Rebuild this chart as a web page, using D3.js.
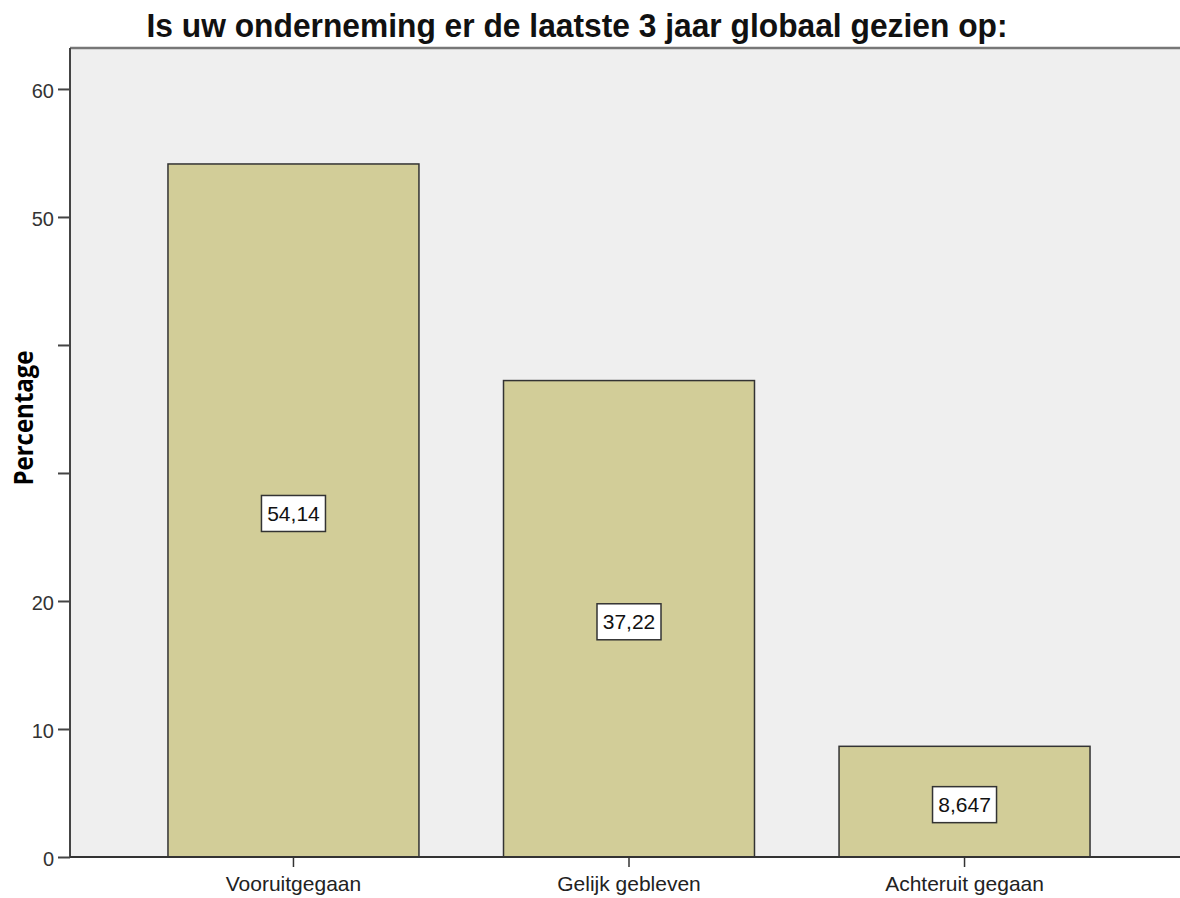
<!DOCTYPE html>
<html><head><meta charset="utf-8">
<script src="https://cdn.jsdelivr.net/npm/d3@7"></script>
<style>body{margin:0;background:#fff}svg{display:block}</style>
</head><body>
<script>
const categories = ["Vooruitgegaan", "Gelijk gebleven", "Achteruit gegaan"];
const values = [54.14, 37.22, 8.647];
const valueLabels = ["54,14", "37,22", "8,647"];
const tickValues = [0, 10, 20, 30, 40, 50, 60];
const tickLabels = ["0", "10", "20", "", "", "50", "60"];
const title = "Is uw onderneming er de laatste 3 jaar globaal gezien op:";
const yTitle = "Percentage";

const W = 1180, H = 898;
const plot = {left: 70, top: 48, right: 1188, bottom: 857};
const sans = "Liberation Sans, Arial, sans-serif";

const svg = d3.select("body").append("svg").attr("width", W).attr("height", H);

const y = d3.scaleLinear().domain([0, 63.2]).range([plot.bottom, plot.top]);
const x = d3.scaleBand().domain(categories).range([plot.left, plot.right])
  .paddingInner(0.252).paddingOuter(0.292);

svg.append("rect").attr("x", plot.left).attr("y", plot.top)
  .attr("width", plot.right - plot.left).attr("height", plot.bottom - plot.top)
  .attr("fill", "#efefef");
svg.append("line").attr("x1", plot.left).attr("x2", W).attr("y1", plot.top).attr("y2", plot.top)
  .attr("stroke", "#777").attr("stroke-width", 2.5);

svg.selectAll("rect.bar").data(values).join("rect").attr("class", "bar")
  .attr("x", (d, i) => x(categories[i]))
  .attr("y", d => y(d))
  .attr("width", x.bandwidth())
  .attr("height", d => y(0) - y(d))
  .attr("fill", "#d2cd98").attr("stroke", "#333").attr("stroke-width", 1.5);

const lab = svg.selectAll("g.lab").data(values).join("g").attr("class", "lab")
  .attr("transform", (d, i) => `translate(${x(categories[i]) + x.bandwidth()/2},${(y(d) + y(0))/2 + 3})`);
lab.append("rect").attr("x", -32).attr("y", -18).attr("width", 64).attr("height", 36)
  .attr("fill", "#fff").attr("stroke", "#333").attr("stroke-width", 1.5);
lab.append("text").attr("text-anchor", "middle").attr("dy", "0.36em")
  .attr("font-family", sans).attr("font-size", 21)
  .attr("fill", "#111").text((d, i) => valueLabels[i]);

const yAxis = d3.axisLeft(y).tickValues(tickValues).tickSize(12).tickPadding(4)
  .tickFormat((d, i) => tickLabels[i]);
const gy = svg.append("g").attr("transform", `translate(${plot.left},0)`).call(yAxis);
gy.select(".domain").remove();
gy.selectAll(".tick line").attr("stroke", "#444").attr("stroke-width", 2);
gy.selectAll(".tick text").attr("font-family", sans)
  .attr("font-size", 20).attr("fill", "#333").attr("dy", "0.42em");
svg.append("line").attr("x1", plot.left).attr("x2", plot.left).attr("y1", plot.top).attr("y2", plot.bottom + 1)
  .attr("stroke", "#444").attr("stroke-width", 2);

const xAxis = d3.axisBottom(x).tickSize(10).tickPadding(9);
const gx = svg.append("g").attr("transform", `translate(0,${plot.bottom})`).call(xAxis);
gx.select(".domain").remove();
gx.selectAll(".tick line").attr("stroke", "#333").attr("stroke-width", 1.5);
gx.selectAll(".tick text").attr("font-family", sans)
  .attr("font-size", 21).attr("fill", "#222");
svg.append("line").attr("x1", plot.left).attr("x2", W).attr("y1", plot.bottom).attr("y2", plot.bottom)
  .attr("stroke", "#333").attr("stroke-width", 2);

svg.append("text").attr("x", 577).attr("y", 37).attr("text-anchor", "middle")
  .attr("font-family", "Liberation Sans Narrow, Liberation Sans, Arial, sans-serif").attr("font-weight", "bold")
  .attr("font-size", 34).attr("fill", "#111")
  .attr("textLength", 861).attr("lengthAdjust", "spacingAndGlyphs").text(title);

svg.append("text").attr("transform", "translate(33,418) rotate(-90)").attr("text-anchor", "middle")
  .attr("font-family", "Open Sans, Noto Sans, sans-serif").attr("font-weight", "bold")
  .attr("font-size", 27).attr("fill", "#000")
  .attr("textLength", 135).attr("lengthAdjust", "spacingAndGlyphs").text(yTitle);
</script>
</body></html>
